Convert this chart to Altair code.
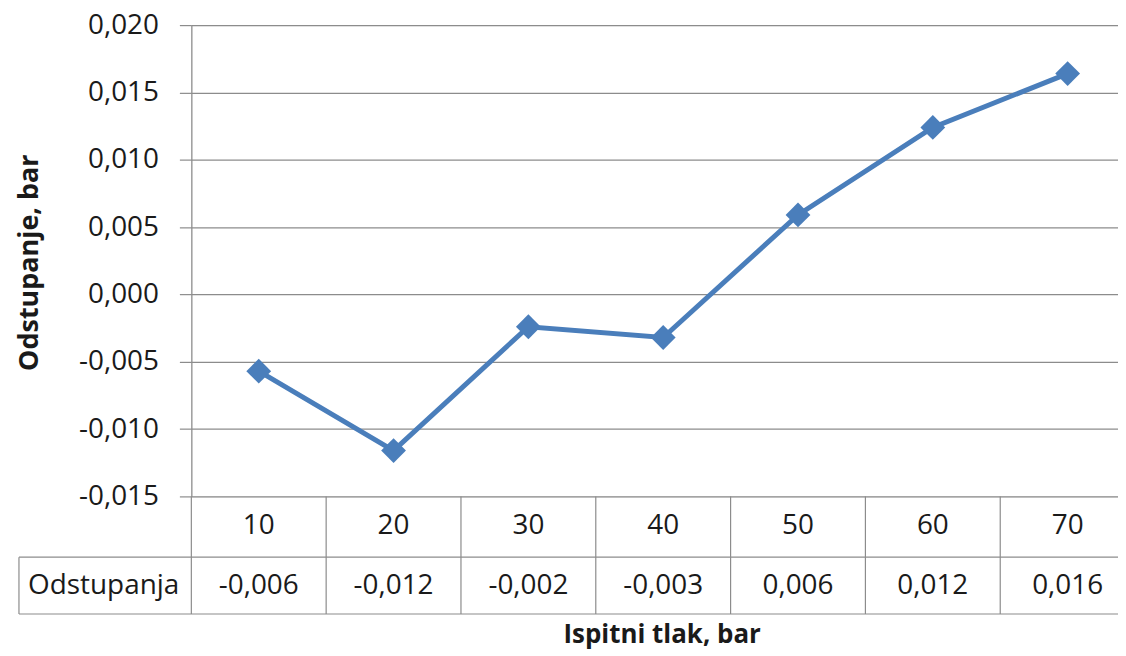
import altair as alt
import pandas as pd

# ---- data ----
pressure = [10, 20, 30, 40, 50, 60, 70]                                     # Ispitni tlak, bar
deviation = [-0.0057, -0.0116, -0.0024, -0.0032, 0.0059, 0.0124, 0.0164]      # Odstupanje, bar
y_ticks = [-0.015, -0.010, -0.005, 0.0, 0.005, 0.010, 0.015, 0.020]
row_label = "Odstupanja"
x_title = "Ispitni tlak, bar"
y_title = "Odstupanje, bar"

df = pd.DataFrame({"p": pressure, "v": deviation})
one = pd.DataFrame({"k": [0]})

W = 930
H = 473
BAND = 135.3
BLUE = "#4A7EBB"
GRID = "#8C8C8C"
TXT = "#1a1a1a"
FONT = "Open Sans"
FS = 28

comma_fmt = "replace(replace(format({v}, '.3f'), '.', ','), '\u2212', '-')"

x_enc = alt.X(
    "p:O",
    scale=alt.Scale(type="band", range=[0, BAND * 7], paddingInner=0, paddingOuter=0),
    axis=alt.Axis(
        labels=False, ticks=False, domain=False, grid=False,
        title=x_title, titleFont=FONT, titleFontSize=26, titleFontWeight="bold",
        titleColor=TXT, titleX=472, titleY=139, titleAlign="center", titleBaseline="middle",
    ),
)
y_enc = alt.Y(
    "v:Q",
    scale=alt.Scale(domain=[-0.015, 0.020], nice=False, zero=False),
    axis=alt.Axis(
        values=y_ticks,
        labelExpr=comma_fmt.format(v="datum.value"),
        labelFont=FONT, labelFontSize=FS, labelColor=TXT, labelPadding=21,
        tickSize=12, tickColor=GRID, tickWidth=1.2,
        domainColor=GRID, domainWidth=1.2,
        grid=True, gridColor=GRID, gridWidth=1.2,
        title=y_title, titleFont=FONT, titleFontSize=27, titleFontWeight="bold",
        titleColor=TXT, titleX=-162, titleY=238, titleAlign="center", titleBaseline="middle",
    ),
)

base = alt.Chart(df)

line = base.mark_line(color=BLUE, strokeWidth=5).encode(x=x_enc, y=y_enc)
pts = base.mark_point(shape="diamond", filled=True, size=620, color=BLUE, opacity=1).encode(
    x="p:O", y="v:Q"
)

# data table below the plot
vlines = base.mark_rule(color=GRID, strokeWidth=1.2).encode(
    x=alt.X("p:O", bandPosition=0), y=alt.value(473), y2=alt.value(591)
)
hline1 = alt.Chart(one).mark_rule(color=GRID, strokeWidth=1.2).encode(
    x=alt.value(-173), x2=alt.value(BAND * 7), y=alt.value(534)
)
hline2 = alt.Chart(one).mark_rule(color=GRID, strokeWidth=1.2).encode(
    x=alt.value(-173), x2=alt.value(BAND * 7), y=alt.value(591)
)
vleft = alt.Chart(one).mark_rule(color=GRID, strokeWidth=1.2).encode(
    x=alt.value(-173), y=alt.value(534), y2=alt.value(591)
)
header = base.mark_text(font=FONT, fontSize=FS, color=TXT, baseline="middle").encode(
    x="p:O", y=alt.value(503), text="p:O"
)
vals = base.transform_calculate(lab=comma_fmt.format(v="datum.v")).mark_text(
    font=FONT, fontSize=FS, color=TXT, baseline="middle"
).encode(x="p:O", y=alt.value(562.5), text="lab:N")
rowlab = alt.Chart(one).mark_text(font=FONT, fontSize=FS, color=TXT, baseline="middle").encode(
    x=alt.value(-88), y=alt.value(562.5), text=alt.value(row_label)
)

chart = alt.layer(
    vlines, hline1, hline2, vleft, line, pts, header, vals, rowlab
).properties(
    width=W,
    height=H,
    autosize=alt.AutoSizeParams(type="none"),
    padding={"left": 184, "top": 16, "right": 0, "bottom": 156},
).configure_view(stroke=None).configure(background="white")

chart.save("out.html", embed_options={"renderer": "svg", "actions": False})
